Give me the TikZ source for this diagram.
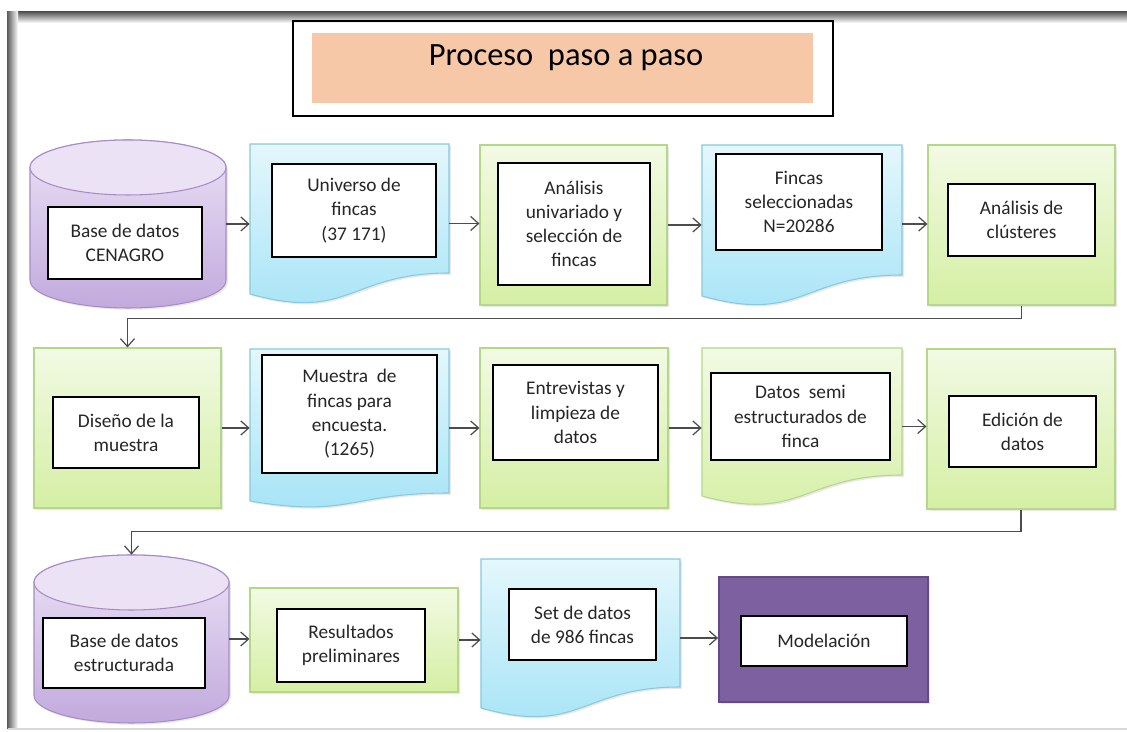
\documentclass[tikz,border=0pt]{standalone}
\usepackage{fontspec}
\setmainfont{Carlito}
\usetikzlibrary{fit,arrows.meta,shadows}

\definecolor{verdeA}{HTML}{F2FAE4}
\definecolor{verdeB}{HTML}{D5EFA4}
\definecolor{verdeBorde}{HTML}{B3D888}
\definecolor{azulA}{HTML}{E4F7FC}
\definecolor{azulB}{HTML}{A4E3F6}
\definecolor{azulBorde}{HTML}{86CADE}
\definecolor{lilaA}{HTML}{EBE2F5}
\definecolor{lilaB}{HTML}{C2AADD}
\definecolor{lilaBorde}{HTML}{A68CC6}
\definecolor{morado}{HTML}{7D60A0}
\definecolor{moradoBorde}{HTML}{65498A}
\definecolor{durazno}{HTML}{F6C8A8}

\tikzset{
  sombra/.style={drop shadow={opacity=0.18, shadow xshift=1pt, shadow yshift=-1pt}},
  hueco/.style={rectangle, inner sep=0pt},
  verde/.style={hueco, draw=verdeBorde, top color=verdeA, bottom color=verdeB, line width=0.6pt, sombra},
  azul/.style={draw=azulBorde, top color=azulA, bottom color=azulB, line width=0.6pt, sombra},
  lila/.style={draw=lilaBorde, top color=lilaA, bottom color=lilaB, line width=0.6pt, sombra},
  texto/.style={rectangle, draw=black, fill=white, line width=1.1pt, inner sep=0pt,
    align=center, text=black!85, font=\fontsize{11}{13.8}\selectfont},
  flecha/.style={draw=black!70, line width=0.7pt, -{Straight Barb[length=4.5pt,width=8pt]}}
}

\begin{document}
\begin{tikzpicture}[x=0.02cm, y=-0.02cm]
\useasboundingbox (0,0) rectangle (1127,732);
% marco
\fill[top color=black!65, bottom color=white] (8,12) rectangle (1127,23);
\fill[left color=black!65, right color=white] (7,12) rectangle (18,729);
\draw[black!15, line width=1pt] (8,729) -- (1127,729);

% titulo
\node[hueco, draw=black, line width=1.2pt, fit={(293,21) (833,116)}] (marco) {};
\node[hueco, fill=durazno, fit={(312,33) (813,103)}] (franja) {};
\node[inner sep=0pt, font=\fontsize{18.5}{22}\selectfont] (titulo) at (566,58) {Proceso\ \ paso a paso};

% fila 1
\draw[lila] (30,167.5) -- (30,280.5) arc[start angle=180, end angle=0, x radius=98, y radius=27.5]
  -- (226,167.5) arc[start angle=0, end angle=-180, x radius=98, y radius=27.5] -- cycle;
\draw[draw=lilaBorde, fill=lilaA, line width=0.6pt] (128,167.5) ellipse [x radius=98, y radius=27.5];
\node[hueco, fit={(30,140) (226,308)}] (cenagro) {};
\node[texto, minimum width=3.08cm, minimum height=1.44cm] (tcenagro) at (125,243) {Base de datos\\CENAGRO};

\draw[azul] (250,144) -- (449,144) -- (449,273) .. controls (349.5,273) and (349.5,322) .. (250,294) -- cycle;
\node[hueco, fit={(250,144) (449,303)}] (universo) {};
\node[texto, minimum width=3.28cm, minimum height=1.86cm] (tuniverso) at (354,210.5) {Universo de\\fincas\\(37 171)};

\node[verde, fit={(480,145) (667,305)}] (analisis) {};
\node[texto, minimum width=3.04cm, minimum height=2.44cm] (tanalisis) at (574,224) {Análisis\\univariado y\\selección de\\fincas};

\draw[azul] (702,145) -- (902,145) -- (902,275) .. controls (802,275) and (802,324) .. (702,296) -- cycle;
\node[hueco, fit={(702,145) (902,303)}] (fincas) {};
\node[texto, minimum width=3.32cm, minimum height=1.92cm] (tfincas) at (799,202) {Fincas\\seleccionadas\\N=20286};

\node[verde, fit={(928,145) (1115,305)}] (cluster) {};
\node[texto, minimum width=2.94cm, minimum height=1.44cm] (tcluster) at (1021.5,220) {Análisis de\\clústeres};

\draw[flecha] (cenagro.east) -- (cenagro.east -| universo.west);
\draw[flecha] (universo.east) -- (universo.east -| analisis.west);
\draw[flecha] (analisis.east) -- (analisis.east -| fincas.west);
\draw[flecha] (fincas.east) -- (fincas.east -| cluster.west);

% fila 2
\node[verde, fit={(34,348) (221,508)}] (diseno) {};
\node[texto, minimum width=2.92cm, minimum height=1.42cm] (tdiseno) at (126,432.5) {Diseño de la\\muestra};

\draw[azul] (250,349) -- (449,349) -- (449,493) .. controls (349.5,493) and (349.5,518) .. (250,501) -- cycle;
\node[hueco, fit={(250,349) (449,507)}] (muestra) {};
\node[texto, line width=1.6pt, minimum width=3.5cm, minimum height=2.36cm] (tmuestra) at (349.5,414) {Muestra\ \ de\\fincas para\\encuesta.\\(1265)};

\node[verde, fit={(480,348) (668,508)}] (entrevistas) {};
\node[texto, minimum width=3.3cm, minimum height=1.9cm] (tentrevistas) at (575.5,412.5) {Entrevistas y\\limpieza de\\datos};

\draw[draw=verdeBorde, top color=verdeA, bottom color=verdeB, line width=0.6pt, sombra]
  (702,348) -- (902,348) -- (902,475) .. controls (802,475) and (802,523) .. (702,496) -- cycle;
\node[hueco, fit={(702,348) (902,505)}] (semi) {};
\node[texto, minimum width=3.58cm, minimum height=1.74cm] (tsemi) at (800.5,416.5) {Datos\ \ semi\\estructurados de\\finca};

\node[verde, fit={(927,349) (1115,509)}] (edicion) {};
\node[texto, minimum width=2.94cm, minimum height=1.42cm] (tedicion) at (1022.5,431.5) {Edición de\\datos};

\draw[flecha] (cluster.south) -- ++(0,13) -| (diseno.north);
\draw[flecha] (diseno.east) -- (diseno.east -| muestra.west);
\draw[flecha] (muestra.east) -- (muestra.east -| entrevistas.west);
\draw[flecha] (entrevistas.east) -- (entrevistas.east -| semi.west);
\draw[flecha] (semi.east) -- (semi.east -| edicion.west);

% fila 3
\draw[lila] (34,582.5) -- (34,695.5) arc[start angle=180, end angle=0, x radius=97.5, y radius=27.5]
  -- (229,582.5) arc[start angle=0, end angle=-180, x radius=97.5, y radius=27.5] -- cycle;
\draw[draw=lilaBorde, fill=lilaA, line width=0.6pt] (131.5,582.5) ellipse [x radius=97.5, y radius=27.5];
\node[hueco, fit={(34,555) (229,723)}] (base) {};
\node[texto, minimum width=3.24cm, minimum height=1.4cm] (tbase) at (124,653) {Base de datos\\estructurada};

\node[verde, fit={(250,588) (458,692)}] (resultados) {};
\node[texto, minimum width=2.96cm, minimum height=1.46cm] (tresultados) at (351,645.5) {Resultados\\preliminares};

\draw[azul] (481,559) -- (680,559) -- (680,687) .. controls (580.5,687) and (580.5,736) .. (481,708) -- cycle;
\node[hueco, fit={(481,559) (680,717)}] (set) {};
\node[texto, minimum width=2.94cm, minimum height=1.42cm] (tset) at (582.5,624.5) {Set de datos\\de 986 fincas};

\node[hueco, draw=moradoBorde, fill=morado, line width=1pt, sombra, fit={(719,577) (928,702)}] (modelo) {};
\node[texto, minimum width=3.32cm, minimum height=1cm] (tmodelo) at (824,641) {Modelación};

\draw[flecha] (edicion.south) -- ++(0,22) -| (base.north);
\draw[flecha] (base.east) -- (base.east -| resultados.west);
\draw[flecha] (resultados.east) -- (resultados.east -| set.west);
\draw[flecha] (set.east) -- (set.east -| modelo.west);
\end{tikzpicture}
\end{document}
